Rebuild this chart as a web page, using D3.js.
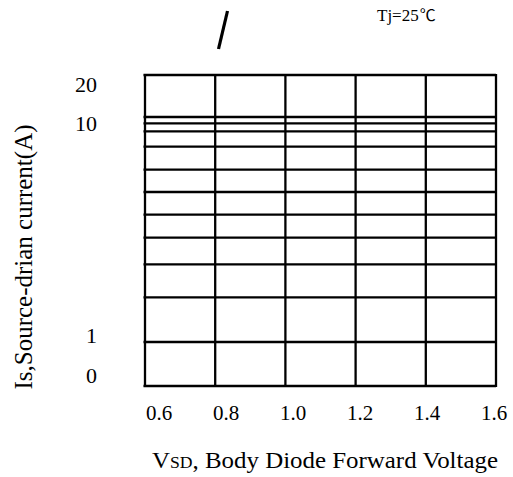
<!DOCTYPE html>
<html>
<head>
<meta charset="utf-8">
<script src="https://cdn.jsdelivr.net/npm/d3@7"></script>
<style>
  html, body { margin: 0; padding: 0; background: #fff; }
  svg { display: block; }
  text, tspan { font-family: "Liberation Serif", "Times New Roman", serif; fill: #000; }
</style>
</head>
<body>
<svg id="chart" width="513" height="477"></svg>
<script>
// Forward voltage ticks (V)
const xTicks = [0.6, 0.8, 1.0, 1.2, 1.4, 1.6];
const xTickLabels = ["0.6", "0.8", "1.0", "1.2", "1.4", "1.6"];
// Source-drain current grid levels (A)
const yGrid = [0, 1, 2, 3, 4, 5, 6, 7, 8, 9, 10, 12, 20];
const yTickValues = [20, 10, 1, 0];
const yTickLabels = ["20", "10", "1", "0"];
const condition = "Tj=25";
const conditionUnit = "\u2103";

const svg = d3.select("#chart");
const plotLeft = 145, plotRight = 496, plotTop = 75, plotBottom = 386;

const x = d3.scaleLinear().domain([0.6, 1.6]).range([plotLeft, plotRight]);
const xLabel = d3.scaleLinear().domain([0.6, 1.6]).range([159, 494]);
// Non-uniform current axis of the printed grid
const y = d3.scaleLinear()
  .domain(yGrid)
  .range([plotBottom, 342, 297.3, 264.3, 237.7, 214.7, 192, 169.7, 146.7, 131.3, 123.3, 117, plotTop]);

const grid = svg.append("g").attr("stroke", "#000").attr("stroke-width", 2.3);

// horizontal grid lines
grid.selectAll("line.h").data(yGrid).join("line")
  .attr("class", "h")
  .attr("x1", plotLeft - 1.5).attr("x2", plotRight)
  .attr("y1", d => y(d)).attr("y2", d => y(d));

// vertical grid lines
grid.selectAll("line.v").data(xTicks).join("line")
  .attr("class", "v")
  .attr("x1", d => x(d)).attr("x2", d => x(d))
  .attr("y1", plotTop - 1).attr("y2", plotBottom + 1);

// x tick labels
svg.append("g").selectAll("text").data(xTicks).join("text")
  .attr("x", d => xLabel(d))
  .attr("y", 413)
  .attr("text-anchor", "middle")
  .attr("dominant-baseline", "central")
  .attr("font-size", 21)
  .text((d, i) => xTickLabels[i]);

// y tick labels (kept inside the frame at the ends)
svg.append("g").selectAll("text").data(yTickValues).join("text")
  .attr("x", 97)
  .attr("y", d => Math.min(Math.max(y(d), plotTop + 9), plotBottom - 11))
  .attr("dy", d => d === 1 ? -7 : 0)
  .attr("text-anchor", "end")
  .attr("dominant-baseline", "central")
  .attr("font-size", 22)
  .text((d, i) => yTickLabels[i]);

// axis titles
const xt = svg.append("text")
  .attr("x", 325).attr("y", 468)
  .attr("text-anchor", "middle")
  .attr("font-size", 24)
  .attr("textLength", 346)
  .attr("lengthAdjust", "spacingAndGlyphs");
xt.append("tspan").text("V");
xt.append("tspan").attr("font-size", 17).text("SD");
xt.append("tspan").text(", Body Diode Forward Voltage");

svg.append("text")
  .attr("transform", "translate(32,257) rotate(-90)")
  .attr("text-anchor", "middle")
  .attr("font-size", 25)
  .attr("textLength", 265)
  .attr("lengthAdjust", "spacingAndGlyphs")
  .text("Is,Source-drian current(A)");

// test condition
const tj = svg.append("text")
  .attr("x", 377).attr("y", 21)
  .attr("font-size", 17);
tj.append("tspan")
  .style("font-family", "'Liberation Serif', serif")
  .text(condition);
tj.append("tspan")
  .style("font-family", "'Noto Sans CJK SC', sans-serif")
  .attr("font-size", 16)
  .attr("dx", 1)
  .text(conditionUnit);

// slash mark above the grid
svg.append("path")
  .attr("d", d3.line()([[218.5, 49], [227.5, 11]]))
  .attr("stroke", "#000")
  .attr("stroke-width", 3.2)
  .attr("fill", "none");
</script>
</body>
</html>
